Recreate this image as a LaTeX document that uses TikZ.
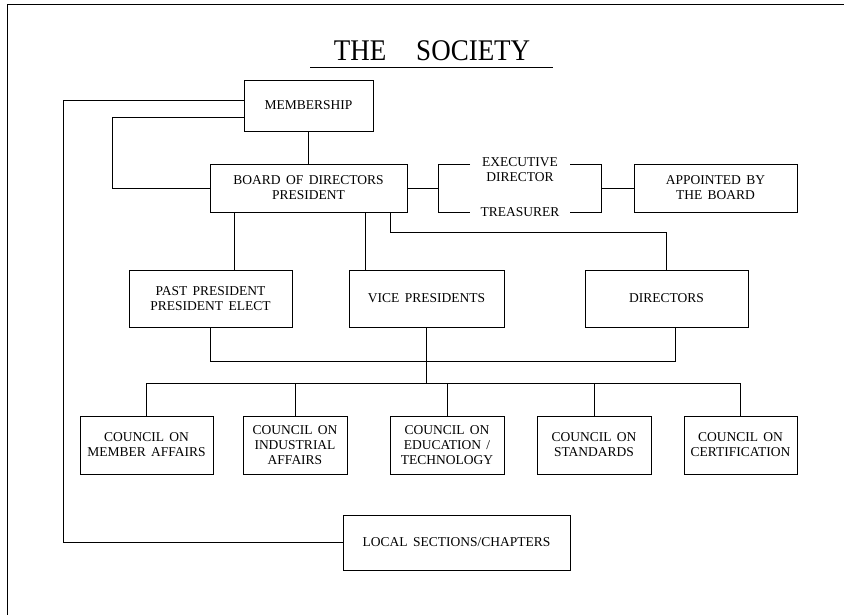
\documentclass[tikz,border=0pt]{standalone}
\usepackage{fontspec}
\setmainfont{Liberation Serif}[WordSpace=1.6]
\newfontfamily\titlefont{Liberation Serif}[FakeStretch=0.9,WordSpace=1.6]
\begin{document}
\begin{tikzpicture}[x=1pt,y=-1pt,line width=0.8pt,
  box/.style={draw,rectangle,inner sep=0pt,align=center,font=\fontsize{13.5}{15}\selectfont},
  lbl/.style={inner sep=0pt,align=center,font=\fontsize{13.5}{15}\selectfont}]
\useasboundingbox (0,0) rectangle (844,615);
% frame
\draw (7,615) -- (7,4) -- (844,4);
% title
\node[inner sep=0pt,font=\titlefont\fontsize{30}{30}\selectfont] (title) at (432,51) {THE\quad SOCIETY};
\coordinate (ul1) at (310,67);
\coordinate (ul2) at (553,67);
\draw (ul1) -- (ul2);
% boxes
\node[box,minimum width=129pt,minimum height=51pt] (mem) at (308.5,105.5) {MEMBERSHIP};
\node[box,minimum width=197pt,minimum height=48pt] (board) at (308.5,188) {BOARD OF DIRECTORS\\PRESIDENT};
\node[box,minimum width=163pt,minimum height=48pt] (appt) at (715.5,188) {APPOINTED BY\\THE BOARD};
\node[lbl] (exec) at (520,170) {EXECUTIVE\\DIRECTOR};
\node[lbl] (treas) at (520,212) {TREASURER};
\node[box,minimum width=163pt,minimum height=57pt] (past) at (210.5,298.5) {PAST PRESIDENT\\PRESIDENT ELECT};
\node[box,minimum width=155pt,minimum height=57pt] (vice) at (426.5,298.5) {VICE PRESIDENTS};
\node[box,minimum width=163pt,minimum height=57pt] (dirs) at (666.5,298.5) {DIRECTORS};
\node[box,minimum width=133pt,minimum height=58pt] (c1) at (146.5,445) {COUNCIL ON\\MEMBER AFFAIRS};
\node[box,minimum width=104pt,minimum height=58pt] (c2) at (295,445) {COUNCIL ON\\INDUSTRIAL\\AFFAIRS};
\node[box,minimum width=114pt,minimum height=58pt] (c3) at (447,445) {COUNCIL ON\\EDUCATION /\\TECHNOLOGY};
\node[box,minimum width=114pt,minimum height=58pt] (c4) at (594,445) {COUNCIL ON\\STANDARDS};
\node[box,minimum width=113pt,minimum height=58pt] (c5) at (740.5,445) {COUNCIL ON\\CERTIFICATION};
\node[box,minimum width=227pt,minimum height=55pt] (local) at (456.5,542.5) {LOCAL SECTIONS/CHAPTERS};
% helper coordinates
\coordinate (o1) at (63,100);
\coordinate (o2) at (63,542.5);
\coordinate (i1) at (112,117);
\coordinate (bl1) at (438,164);
\coordinate (bl2) at (438,212);
\coordinate (bl) at (438,188);
\coordinate (br1) at (601,164);
\coordinate (br2) at (601,212);
\coordinate (br) at (601,188);
\coordinate (tl1) at (470,164);
\coordinate (tl2) at (470,212);
\coordinate (tr1) at (570,164);
\coordinate (tr2) at (570,212);
\coordinate (b1) at (234,0);
\coordinate (b2) at (365,0);
\coordinate (b3) at (390,232);
\coordinate (d2) at (675,361);
\coordinate (bus) at (0,383);
% connectors
\draw (mem.west |- o1) -- (o1) -- (o2) -- (local.west);
\draw (mem.west |- i1) -- (i1) |- (board.west);
\draw (mem.south) -- (board.north);
\draw (board.east) -- (bl);
\draw (tl1) -- (bl1) -- (bl2) -- (tl2);
\draw (tr1) -- (br1) -- (br2) -- (tr2);
\draw (br) -- (appt.west);
\draw (board.south -| b1) -- (past.north -| b1);
\draw (board.south -| b2) -- (vice.north -| b2);
\draw (board.south -| b3) -- (b3) -| (dirs.north);
\draw (past.south) |- (d2) -- (dirs.south -| d2);
\draw (vice.south) -- (vice.south |- bus);
\draw (c1.north) -- (c1.north |- bus) -| (c5.north);
\draw (c2.north) -- (c2.north |- bus);
\draw (c3.north) -- (c3.north |- bus);
\draw (c4.north) -- (c4.north |- bus);
\end{tikzpicture}
\end{document}
